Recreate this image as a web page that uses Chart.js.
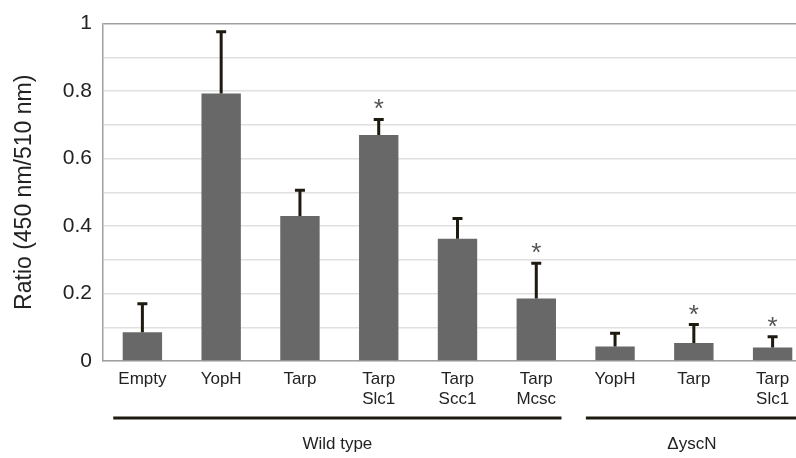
<!DOCTYPE html>
<html>
<head>
<meta charset="utf-8">
<script src="https://cdn.jsdelivr.net/npm/chart.js@4.4.1/dist/chart.umd.min.js"></script>
<style>
  html, body { margin: 0; padding: 0; background: #fff; overflow: hidden; }
  #wrap { position: relative; width: 812px; height: 458px; }
</style>
</head>
<body>
<div id="wrap"><canvas id="ratioChart"></canvas></div>
<script>
const categories = [["Empty"], ["YopH"], ["Tarp"], ["Tarp", "Slc1"], ["Tarp", "Scc1"], ["Tarp", "Mcsc"], ["YopH"], ["Tarp"], ["Tarp", "Slc1"]];
const ratios = [0.085, 0.793, 0.43, 0.67, 0.362, 0.185, 0.043, 0.053, 0.04];
const errorTops = [0.17, 0.976, 0.506, 0.716, 0.422, 0.29, 0.082, 0.108, 0.072];
const significant = [false, false, false, true, false, true, false, true, true];
const groups = [
  { label: "Wild type", from: 0, to: 5 },
  { label: "\u0394yscN", from: 6, to: 8 },
];

const ink = "#1e1a10";
const font = "'Liberation Sans', Arial, sans-serif";

const extrasPlugin = {
  id: "extras",
  afterDatasetsDraw(chart) {
    const c = chart.ctx;
    const x = chart.scales.x;
    const y = chart.scales.y;
    const step = x.getPixelForValue(1) - x.getPixelForValue(0);

    c.save();
    // error bars (upper only)
    c.strokeStyle = ink;
    c.lineWidth = 3;
    ratios.forEach((v, i) => {
      const px = x.getPixelForValue(i);
      const y0 = y.getPixelForValue(v);
      const y1 = y.getPixelForValue(errorTops[i]);
      c.beginPath();
      c.moveTo(px, y0);
      c.lineTo(px, y1);
      c.moveTo(px - 5, y1);
      c.lineTo(px + 5, y1);
      c.stroke();
    });

    // asterisks
    c.fillStyle = "#555";
    c.font = "26px " + font;
    c.textAlign = "center";
    c.textBaseline = "alphabetic";
    const m = c.measureText("*");
    const mid = (m.actualBoundingBoxAscent - m.actualBoundingBoxDescent) / 2;
    significant.forEach((s, i) => {
      if (!s) return;
      const px = x.getPixelForValue(i);
      const cy = y.getPixelForValue(errorTops[i]) - 15;
      c.fillText("*", px, cy + mid);
    });

    // group underlines and labels
    c.strokeStyle = ink;
    c.lineWidth = 3;
    c.fillStyle = "#222";
    c.font = "17px " + font;
    c.textBaseline = "middle";
    groups.forEach((g) => {
      const x0 = x.getPixelForValue(g.from) - step * 0.37;
      const x1 = x.getPixelForValue(g.to) + step * 0.32;
      c.beginPath();
      c.moveTo(x0, 418);
      c.lineTo(x1, 418);
      c.stroke();
      c.fillText(g.label, (x0 + x1) / 2, 444);
    });
    c.restore();
  },
};

new Chart(document.getElementById("ratioChart"), {
  type: "bar",
  data: {
    labels: categories,
    datasets: [
      {
        data: ratios,
        backgroundColor: "#686868",
        borderWidth: 0,
        barPercentage: 0.5,
        categoryPercentage: 1,
      },
    ],
  },
  options: {
    responsive: true,
    maintainAspectRatio: false,
    animation: false,
    events: [],
    layout: { padding: { top: 21, right: 0, left: 0, bottom: 0 } },
    plugins: {
      legend: { display: false },
      tooltip: { enabled: false },
    },
    scales: {
      x: {
        grid: { display: false, drawTicks: false },
        border: { color: "#a0a0a0", width: 1.5 },
        ticks: { color: "#222", font: { family: font, size: 17 }, padding: 8, maxRotation: 0, autoSkip: false },
        afterFit: (s) => { s.height = 97; },
      },
      y: {
        min: 0,
        max: 1,
        grid: {
          drawTicks: false,
          lineWidth: 1.5,
          color: (ctx) => (ctx.tick && ctx.tick.value === 1 ? "#a0a0a0" : "#e0e0e0"),
        },
        border: { color: "#a0a0a0", width: 1.5 },
        ticks: {
          stepSize: 0.1,
          padding: 11,
          color: "#222",
          font: { family: font, size: 21 },
          callback: (v) => {
            const r = Math.round(v * 10);
            return r % 2 === 0 ? String(r / 10) : "";
          },
        },
        title: {
          display: true,
          text: "Ratio (450 nm/510 nm)",
          color: "#222",
          font: { family: font, size: 23 },
          padding: { top: 11, bottom: 0 },
        },
        afterFit: (s) => { s.width = 103; },
      },
    },
  },
  plugins: [extrasPlugin],
});
</script>
</body>
</html>
